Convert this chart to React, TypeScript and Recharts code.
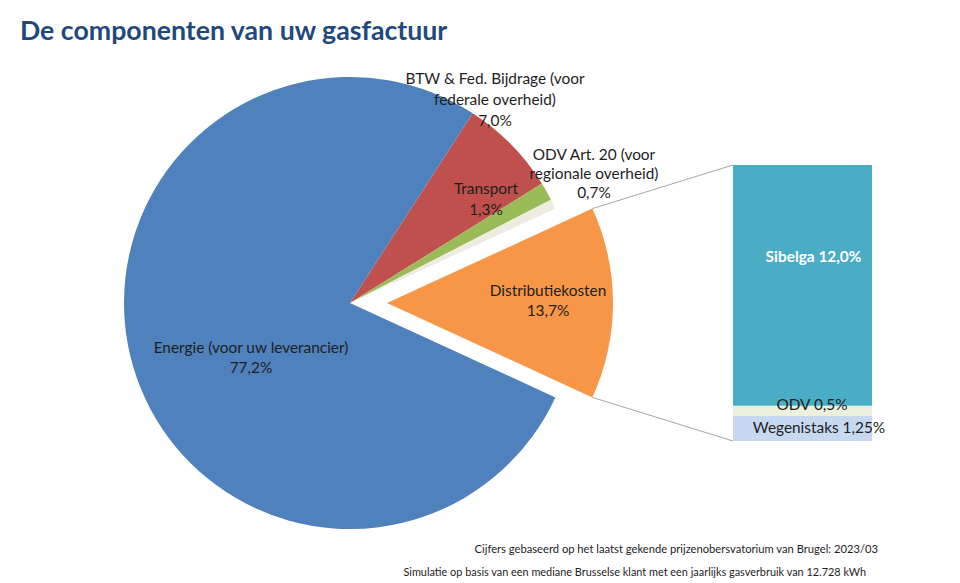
import React from 'react';
import { PieChart, Pie, Cell, BarChart, Bar, XAxis, YAxis } from 'recharts';

// ---------- data ----------
const pieCategories = [
  'BTW & Fed. Bijdrage (voor federale overheid)',
  'Transport',
  'ODV Art. 20 (voor regionale overheid)',
  'Distributiekosten',
  'Energie (voor uw leverancier)',
];
const pieLabelLines = [
  ['BTW & Fed. Bijdrage (voor', 'federale overheid)'],
  ['Transport'],
  ['ODV Art. 20 (voor', 'regionale overheid)'],
  ['Distributiekosten'],
  ['Energie (voor uw leverancier)'],
];
const pieValues = [7.0, 1.3, 0.7, 13.7, 77.2];
const explodedIndex = 3;

const barCategories = ['Distributiekosten'];
const barSeries = ['Wegenistaks', 'ODV', 'Sibelga'];
const barValues = [1.25, 0.5, 12.0];
const barLabels = ['Wegenistaks 1,25%', 'ODV 0,5%', 'Sibelga 12,0%'];

const titleText = 'De componenten van uw gasfactuur';
const footnotes = [
  'Cijfers gebaseerd op het laatst gekende prijzenobersvatorium van Brugel:  2023/03',
  'Simulatie op basis van een mediane Brusselse klant met een jaarlijks gasverbruik van 12.728 kWh',
];

// ---------- styles / layout ----------
const FONT = 'Lato, "Open Sans", sans-serif';
const TEXT = '#1e1e1e';
const LABEL_SIZE = 15.4;
const pieColors = ['#C0504D', '#9BBB59', '#EEECE1', '#F79646', '#4F81BD'];
const barColors = ['#C6D9F1', '#EBF1DE', '#4BACC6'];

const W = 960;
const H = 583;
const CX = 350;
const CY = 303;
const R = 226;
const EXPLODE = 37;

const BAR_LEFT = 733;
const BAR_TOP = 165;
const BAR_W = 139;
const BAR_H = 276;

const pieLabelLayout = [
  { dx: 145, dy: -204, lh: 21 },
  { dx: 136, dy: -104.5, lh: 21 },
  { dx: 244, dy: -130, lh: 19 },
  { dx: 161, dy: -3, lh: 20 },
  { dx: -99, dy: 54, lh: 20 },
];
const barLabelLayout = [
  { dx: 16.5, dy: -1.5, color: TEXT, weight: 400 },
  { dx: 9.5, dy: -6.5, color: TEXT, weight: 400 },
  { dx: 11, dy: -29, color: '#ffffff', weight: 700 },
];

const fmtPct = (v: number) => v.toFixed(1).replace('.', ',') + '%';

const pieData = pieCategories.map((name, i) => ({ name, value: pieValues[i] }));
const pieTotal = pieValues.reduce((a, b) => a + b, 0);
const beforeExploded = pieValues.slice(0, explodedIndex).reduce((a, b) => a + b, 0);
// start angle chosen so that the exploded slice is centred on the horizontal axis
const START_ANGLE = ((beforeExploded + pieValues[explodedIndex] / 2) / pieTotal) * 360;
const END_ANGLE = START_ANGLE - 360;
const explodedMid = 0; // by construction
const RAD = Math.PI / 180;
const ECX = CX + EXPLODE * Math.cos(explodedMid * RAD);
const ECY = CY - EXPLODE * Math.sin(explodedMid * RAD);
const explodedHalf = (pieValues[explodedIndex] / pieTotal) * 180;

const barRow: Record<string, any> = { name: barCategories[0] };
barSeries.forEach((s, i) => (barRow[s] = barValues[i]));
const barData = [barRow];
const barTotal = barValues.reduce((a, b) => a + b, 0);

function renderPieLabel(props: any, exploded: boolean) {
  const { index, cx, cy } = props;
  if ((index === explodedIndex) !== exploded) return null;
  const lay = pieLabelLayout[index];
  const lines = [...pieLabelLines[index], fmtPct(pieValues[index])];
  const x = cx + lay.dx;
  const y0 = cy + lay.dy - ((lines.length - 1) * lay.lh) / 2;
  const labelNode = (
    <g key={'lbl' + index}>
      {lines.map((t, k) => (
        <text
          key={k}
          x={x}
          y={y0 + k * lay.lh}
          textAnchor="middle"
          dominantBaseline="central"
          fontFamily={FONT}
          fontSize={LABEL_SIZE}
          fill={TEXT}
        >
          {t}
        </text>
      ))}
    </g>
  );
  if (!exploded) return labelNode;
  // connector lines from exploded slice to the breakdown bar
  const topX = cx + R * Math.cos((explodedMid + explodedHalf) * RAD);
  const topY = cy - R * Math.sin((explodedMid + explodedHalf) * RAD);
  const botX = cx + R * Math.cos((explodedMid - explodedHalf) * RAD);
  const botY = cy - R * Math.sin((explodedMid - explodedHalf) * RAD);
  return (
    <g key={'exp' + index}>
      <line x1={topX} y1={topY} x2={BAR_LEFT} y2={BAR_TOP} stroke="#A6A6A6" strokeWidth={1} />
      <line x1={botX} y1={botY} x2={BAR_LEFT} y2={BAR_TOP + BAR_H} stroke="#A6A6A6" strokeWidth={1} />
      {labelNode}
    </g>
  );
}

function makeBarLabel(i: number) {
  return (props: any) => {
    const { x, y, width, height } = props;
    const lay = barLabelLayout[i];
    return (
      <text
        x={x + width / 2 + lay.dx}
        y={y + height / 2 + lay.dy}
        textAnchor="middle"
        dominantBaseline="central"
        fontFamily={FONT}
        fontSize={LABEL_SIZE}
        fontWeight={lay.weight}
        fill={lay.color}
      >
        {barLabels[i]}
      </text>
    );
  };
}

export default function App() {
  return (
    <div style={{ position: 'relative', width: W, height: H, overflow: 'hidden' }}>
      <style>{`html, body { margin: 0; padding: 0; } .barwrap svg, .barwrap .recharts-wrapper { overflow: visible !important; }`}</style>
      <PieChart width={W} height={H} margin={{ top: 0, right: 0, bottom: 0, left: 0 }}>
        <text x={20} y={40} fontFamily={FONT} fontWeight={700} fontSize={26.7} fill="#1F497D">
          {titleText}
        </text>
        <Pie
          data={pieData}
          dataKey="value"
          nameKey="name"
          cx={CX}
          cy={CY}
          outerRadius={R}
          innerRadius={0}
          startAngle={START_ANGLE}
          endAngle={END_ANGLE}
          stroke="none"
          isAnimationActive={false}
          labelLine={false}
          label={(p: any) => renderPieLabel(p, false)}
        >
          {pieData.map((d, i) => (
            <Cell key={i} fill={i === explodedIndex ? 'transparent' : pieColors[i]} />
          ))}
        </Pie>
        <Pie
          data={pieData}
          dataKey="value"
          nameKey="name"
          cx={ECX}
          cy={ECY}
          outerRadius={R}
          innerRadius={0}
          startAngle={START_ANGLE}
          endAngle={END_ANGLE}
          stroke="none"
          isAnimationActive={false}
          labelLine={false}
          label={(p: any) => renderPieLabel(p, true)}
        >
          {pieData.map((d, i) => (
            <Cell key={i} fill={i === explodedIndex ? pieColors[i] : 'transparent'} />
          ))}
        </Pie>
      </PieChart>
      <div className="barwrap" style={{ position: 'absolute', left: BAR_LEFT, top: BAR_TOP }}>
        <BarChart
          width={BAR_W}
          height={BAR_H}
          data={barData}
          margin={{ top: 0, right: 0, bottom: 0, left: 0 }}
          barCategoryGap={0}
        >
          <XAxis dataKey="name" hide />
          <YAxis hide domain={[0, barTotal]} allowDataOverflow />
          {barSeries.map((s, i) => (
            <Bar
              key={s}
              dataKey={s}
              stackId="a"
              fill={barColors[i]}
              isAnimationActive={false}
              label={makeBarLabel(i)}
            />
          ))}
        </BarChart>
      </div>
      {footnotes.map((t, i) => (
        <div
          key={i}
          style={{
            position: 'absolute',
            right: i === 0 ? W - 878 : W - 866,
            top: i === 0 ? 542 : 565,
            fontFamily: FONT,
            fontSize: i === 0 ? 11.2 : 10.9,
            color: TEXT,
            whiteSpace: 'nowrap',
            lineHeight: '14px',
          }}
        >
          {t}
        </div>
      ))}
    </div>
  );
}
